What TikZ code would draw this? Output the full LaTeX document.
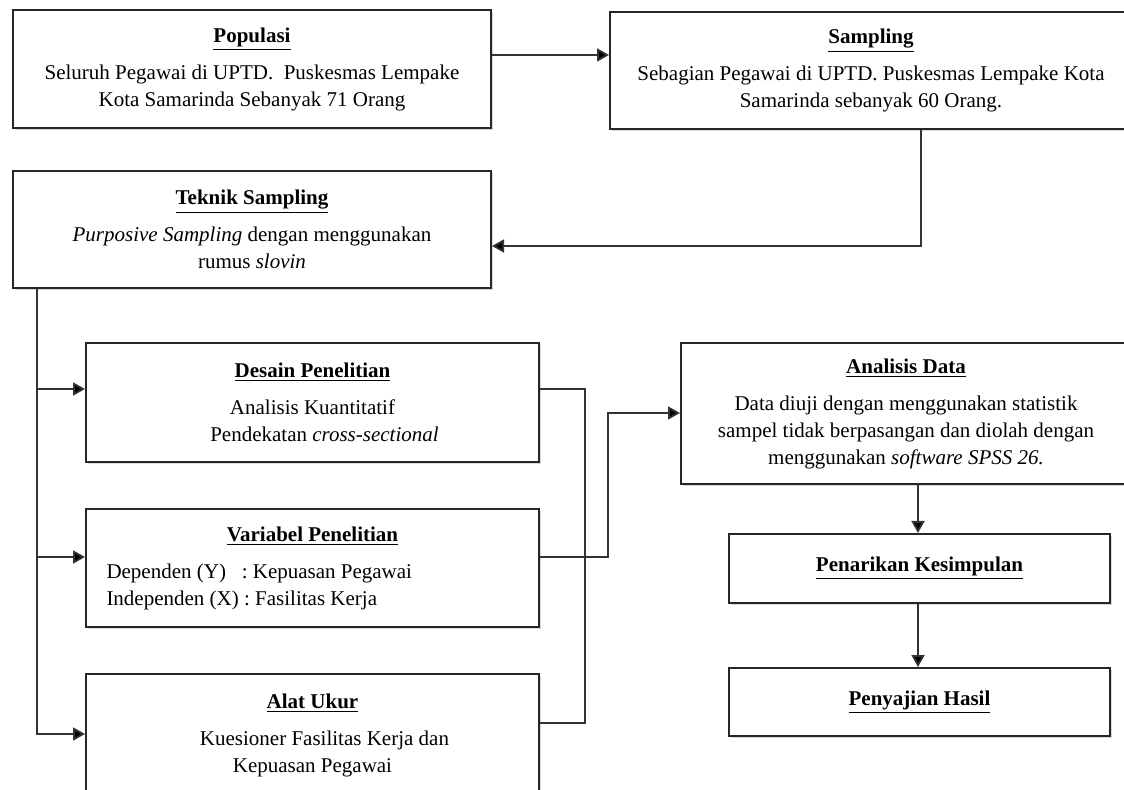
\documentclass[tikz,border=0pt]{standalone}
\usepackage{fontspec}
\setmainfont{Liberation Serif}
\usetikzlibrary{arrows.meta,shadows}

\newcommand{\judul}[1]{\underline{\textbf{#1}}\\[5pt]}

\begin{document}
\begin{tikzpicture}[x=0.5pt,y=-0.5pt,
    font=\fontsize{10.5}{13.5}\selectfont,
    kotak/.style={rectangle, draw=black!85, line width=1pt, fill=white,
        anchor=north west, align=center, inner sep=0pt,
        drop shadow={shadow xshift=1pt, shadow yshift=-1pt, opacity=0.3}},
    garis/.style={draw=black!80, line width=0.9pt},
    panah/.style={garis, -{Triangle[length=6pt,width=6.5pt,fill=black]}}]

    \useasboundingbox (0,0) rectangle (1124,790);
    \fill[white] (0,0) rectangle (1124,790);
    \clip (0,0) rectangle (1124,790);

    % kotak atas
    \node[kotak, minimum width=239pt, minimum height=59pt] (pop) at (12,9)
        {\judul{Populasi}Seluruh Pegawai di UPTD.\ \ Puskesmas Lempake\\Kota Samarinda Sebanyak 71 Orang};
    \node[kotak, minimum width=261pt, minimum height=58.5pt] (samp) at (609,11)
        {\judul{Sampling}Sebagian Pegawai di UPTD. Puskesmas Lempake Kota\\Samarinda sebanyak 60 Orang.};
    \node[kotak, minimum width=239pt, minimum height=58.5pt] (tek) at (12,170)
        {\judul{Teknik Sampling}\textit{Purposive Sampling} dengan menggunakan\\rumus \textit{slovin}};

    % kotak kiri
    \node[kotak, minimum width=226.5pt, minimum height=59.5pt] (des) at (85,342)
        {\judul{Desain Penelitian}Analisis Kuantitatif\\\hspace*{12pt}Pendekatan \textit{cross-sectional}};
    \node[kotak, minimum width=226.5pt, minimum height=59pt] (var) at (85,508)
        {\judul{Variabel Penelitian}\makebox[206pt][l]{Dependen (Y)\ \ \ : Kepuasan Pegawai}\\
         \makebox[206pt][l]{Independen (X) : Fasilitas Kerja}};
    \node[kotak, minimum width=226.5pt, minimum height=61pt] (alat) at (85,673)
        {\judul{Alat Ukur}\hspace*{12pt}Kuesioner Fasilitas Kerja dan\\Kepuasan Pegawai};

    % kotak kanan
    \node[kotak, minimum width=225pt, minimum height=70.5pt] (ana) at (680,342)
        {\judul{Analisis Data}Data diuji dengan menggunakan statistik\\
         sampel tidak berpasangan dan diolah dengan\\
         menggunakan \textit{software SPSS 26.}};
    \node[kotak, minimum width=190.5pt, minimum height=34.5pt] (pen) at (728,533)
        {\underline{\textbf{Penarikan Kesimpulan}}};
    \node[kotak, minimum width=190.5pt, minimum height=34pt] (hasil) at (728,667)
        {\underline{\textbf{Penyajian Hasil}}};

    % titik belok
    \coordinate (a1) at (0,55);
    \coordinate (a2) at (921,246);
    \coordinate (b0) at (37,0);
    \coordinate (b1) at (37,389);
    \coordinate (b2) at (37,557);
    \coordinate (b3) at (37,734);
    \coordinate (c1) at (585,389);
    \coordinate (c2) at (585,723);
    \coordinate (d1) at (608,557);
    \coordinate (d2) at (608,413);
    \coordinate (e1) at (918,0);

    % panah
    \draw[panah] (pop.east |- a1) -- (samp.west |- a1);
    \draw[panah] (samp.south -| a2) -- (a2) -- (tek.east |- a2);
    \draw[panah] (tek.south -| b0) -- (b3) -- (alat.west |- b3);
    \draw[panah] (b1) -- (des.west |- b1);
    \draw[panah] (b2) -- (var.west |- b2);
    \draw[garis] (des.east |- c1) -- (c1) -- (c2) -- (alat.east |- c2);
    \draw[panah] (var.east |- d1) -- (d1) -- (d2) -- (ana.west |- d2);
    \draw[panah] (ana.south -| e1) -- (pen.north -| e1);
    \draw[panah] (pen.south -| e1) -- (hasil.north -| e1);
\end{tikzpicture}
\end{document}
